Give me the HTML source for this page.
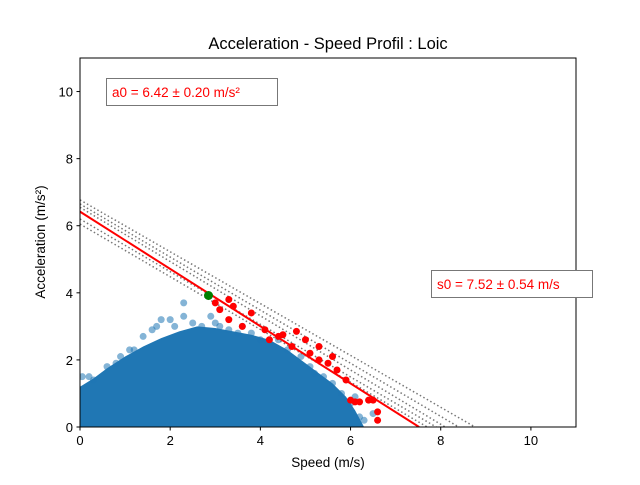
<!DOCTYPE html>
<html><head><meta charset="utf-8"><style>
body{margin:0;background:#fff;}
svg text{font-family:"Liberation Sans","DejaVu Sans",sans-serif;}
</style></head><body>
<svg id="chart" width="640" height="480" xmlns="http://www.w3.org/2000/svg"></svg>
<script>
const xTicks=[0,2,4,6,8,10];
const yTicks=[0,2,4,6,8,10];
const coreSpeed=[0,0.3,0.6,1,1.4,1.8,2.2,2.6,3.0,3.4,3.8,4.2,4.6,5.0,5.3,5.6,5.9,6.1,6.3];
const coreAccel=[1.2,1.45,1.75,2.1,2.4,2.65,2.85,3.0,2.95,2.85,2.75,2.6,2.3,1.9,1.6,1.3,0.9,0.5,0];
const edgeSpeed=[0.05,0.3,0.6,0.9,1.1,1.4,1.6,1.8,2.0,2.3,2.5,2.7,2.9,3.1,3.3,3.5,3.8,4.0,4.3,4.6,4.9,5.1,5.4,5.6,5.8,6.0,6.2,6.3,2.3,3.0,1.7,0.2,0.8,1.2,2.1,3.6,4.4,5.2,6.1,6.5];
const edgeAccel=[1.5,1.4,1.8,2.1,2.3,2.7,2.9,3.2,3.2,3.7,3.1,3.0,3.3,3.0,2.9,2.8,2.8,2.6,2.4,2.3,2.1,1.8,1.5,1.3,1.0,0.7,0.3,0.2,3.3,3.1,3.0,1.5,1.9,2.3,3.0,3.0,2.6,1.6,0.9,0.4];
const redSpeed=[3.0,3.1,3.3,3.3,3.4,3.6,3.8,4.1,4.2,4.4,4.5,4.8,4.7,5.0,5.1,5.3,5.3,5.5,5.6,5.7,5.9,6.0,6.1,6.2,6.4,6.5,6.6,6.6];
const redAccel=[3.7,3.5,3.8,3.2,3.6,3.0,3.4,2.9,2.6,2.7,2.75,2.85,2.4,2.6,2.2,2.4,2.0,1.9,2.1,1.7,1.4,0.8,0.75,0.75,0.8,0.8,0.45,0.2];
const greenPt=[2.85,3.92];
const fitA0=6.42, fitS0=7.52;
const dotA0=[6.77,6.65,6.55,6.2,6.05];
const dotS0=[8.76,8.4,8.1,7.9,7.7];
const svg=document.getElementById('chart');
const NS='http://www.w3.org/2000/svg';
const L=80,R=576,T=58,B=427;
const X=v=>L+v*(R-L)/11, Y=v=>B-v*(B-T)/11;
function mk(tag,attrs,parent){const e=document.createElementNS(NS,tag);for(const k in attrs)e.setAttribute(k,attrs[k]);(parent||svg).appendChild(e);return e;}
const defs=mk('defs',{});const cp=mk('clipPath',{id:'c'},defs);mk('rect',{x:L,y:T,width:R-L,height:B-T},cp);
const plot=mk('g',{'clip-path':'url(#c)'});

let pts=coreSpeed.map((s,i)=>X(s)+','+Y(coreAccel[i])).join(' ')+' '+X(6.3)+','+(B+5)+' '+X(0)+','+(B+5);
const core=mk('polygon',{points:pts,fill:'#2077b4'},plot);

edgeSpeed.forEach((s,i)=>{const c=mk('circle',{cx:X(s),cy:Y(edgeAccel[i]),r:3.5,fill:'#1f77b4','fill-opacity':0.55},plot);
});
dotA0.forEach((a,i)=>{const l=mk('line',{x1:X(0),y1:Y(a),x2:X(dotS0[i]),y2:Y(0),stroke:'#777','stroke-width':1.5,'stroke-dasharray':'1.5,2.5'},plot);
});
redSpeed.forEach((s,i)=>{const c=mk('circle',{cx:X(s),cy:Y(redAccel[i]),r:3.5,fill:'#ff0000'},plot);
});
const fl=mk('line',{x1:X(0),y1:Y(fitA0),x2:X(fitS0),y2:Y(0),stroke:'#ff0000','stroke-width':2},plot);

const g=mk('circle',{cx:X(greenPt[0]),cy:Y(greenPt[1]),r:4.5,fill:'#008000'},plot);

const fr=mk('rect',{x:L,y:T,width:R-L,height:B-T,fill:'none',stroke:'#000','stroke-width':1});

xTicks.forEach(t=>{mk('line',{x1:X(t),y1:B,x2:X(t),y2:B+3.5,stroke:'#000'});
const tx=mk('text',{x:X(t),y:B+18,'font-size':13,'text-anchor':'middle'});tx.textContent=t;
});
yTicks.forEach(t=>{mk('line',{x1:L-3.5,y1:Y(t),x2:L,y2:Y(t),stroke:'#000'});
const tx=mk('text',{x:L-7,y:Y(t)+5,'font-size':13,'text-anchor':'end'});tx.textContent=t;
});
</script>
<svg width="640" height="480" style="position:absolute;left:0;top:0">
<text x="328" y="49" font-size="16.5" text-anchor="middle">Acceleration - Speed Profil : Loic</text>
<text x="328" y="467" font-size="13.5" text-anchor="middle">Speed (m/s)</text>
<text transform="translate(45,242) rotate(-90)" font-size="13.5" text-anchor="middle">Acceleration (m/s²)</text>
<rect x="106.5" y="78.5" width="171" height="27" fill="#fff" stroke="#777"/>
<text x="112" y="97" font-size="13.5" fill="#ff0000">a0 = 6.42 ± 0.20 m/s²</text>
<rect x="431.5" y="270.5" width="161" height="27" fill="#fff" stroke="#777"/>
<text x="437" y="289" font-size="13.5" fill="#ff0000">s0 = 7.52 ± 0.54 m/s</text>
</svg>
</body></html>
